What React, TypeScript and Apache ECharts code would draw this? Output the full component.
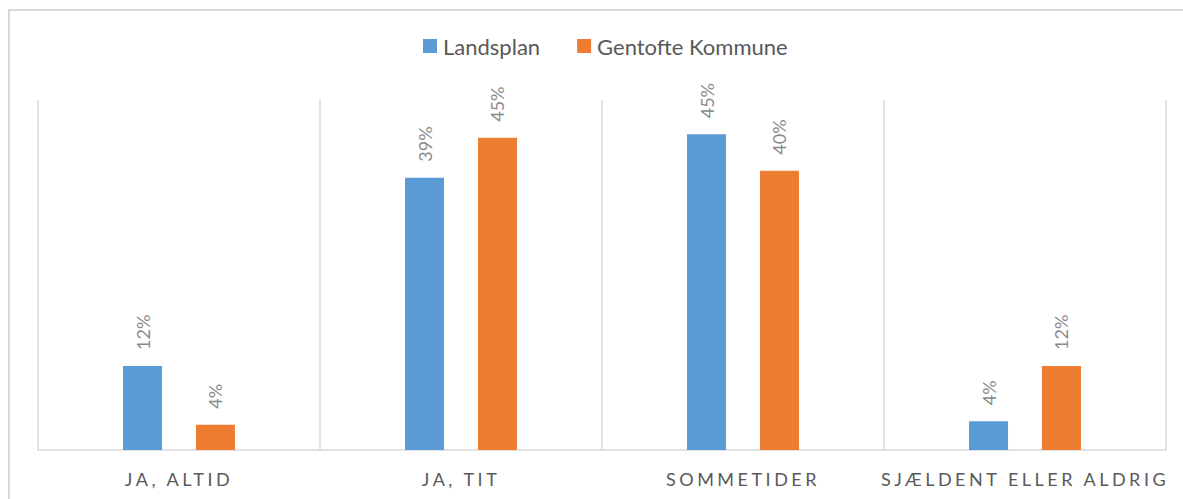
import React, { useEffect, useRef } from "react";
import * as echarts from "echarts";

const categories = ["JA, ALTID", "JA, TIT", "SOMMETIDER", "SJÆLDENT ELLER ALDRIG"];
const landsplan = [12, 38.9, 45.1, 4.1];
const gentofte = [3.6, 44.6, 39.9, 12];
const seriesNames = ["Landsplan", "Gentofte Kommune"];

export default function App() {
  const ref = useRef<HTMLDivElement>(null);
  useEffect(() => {
    const chart = echarts.init(ref.current!, null, { renderer: "svg" });
    const label = {
      show: true,
      position: "top" as const,
      rotate: 90,
      align: "left" as const,
      verticalAlign: "middle" as const,
      distance: 16,
      color: "#8a8a8a",
      fontSize: 18,
      fontFamily: "Lato",
      formatter: (p: any) => Math.round(p.value) + "%",
    };
    chart.setOption({
      animation: false,
      backgroundColor: "#ffffff",
      graphic: [
        {
          type: "rect",
          shape: { x: 9, y: 10, width: 1400, height: 1000 },
          style: { fill: "none", stroke: "#d9d9d9", lineWidth: 2 },
          silent: true,
        },
      ],
      legend: {
        top: 30,
        left: 418,
        itemWidth: 14,
        itemHeight: 14,
        itemGap: 37,
        icon: "rect",
        textStyle: { color: "#595959", fontSize: 22, fontFamily: "Lato", padding: [0, 0, 0, 1] },
        data: seriesNames,
      },
      grid: { left: 38, right: 17, top: 100, bottom: 49, containLabel: false },
      xAxis: {
        type: "category",
        data: categories,
        axisLine: { lineStyle: { color: "#d9d9d9", width: 1.5 } },
        axisTick: { show: false },
        splitLine: { show: true, interval: 0, lineStyle: { color: "#d9d9d9", width: 1.5 } },
        axisLabel: {
          interval: 0,
          margin: 20,
          color: "#595959",
          fontSize: 18,
          fontFamily: "Lato, Carlito",
        },
      },
      yAxis: {
        type: "value",
        min: 0,
        max: 50,
        show: false,
        splitLine: { show: false },
      },
      series: [
        {
          name: seriesNames[0],
          type: "bar",
          data: landsplan,
          barWidth: 39,
          barGap: "87%",
          itemStyle: { color: "#5b9bd5" },
          label,
        },
        {
          name: seriesNames[1],
          type: "bar",
          data: gentofte,
          barWidth: 39,
          barGap: "87%",
          itemStyle: { color: "#ed7d31" },
          label,
        },
      ],
    });
    return () => chart.dispose();
  }, []);
  return (
    <>
      <style>{'text[style*="Carlito"]{letter-spacing:3.5px;}'}</style>
      <div
        ref={ref}
        style={{ position: "fixed", left: 0, top: 0, width: 1183, height: 499 }}
      />
    </>
  );
}
